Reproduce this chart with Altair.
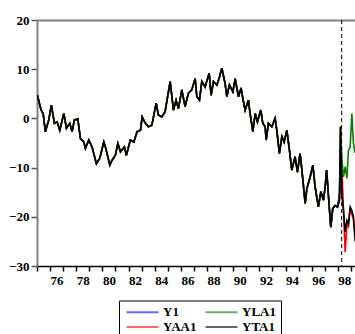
import altair as alt
import pandas as pd

# shared historical path (decimal year, value)
hist_year = [1975.03, 1975.31, 1975.47, 1975.64, 1975.90, 1976.10, 1976.33, 1976.54, 1976.74,
             1977.05, 1977.25, 1977.51, 1977.68, 1977.86, 1978.12, 1978.32, 1978.58, 1978.70,
             1978.96, 1979.21, 1979.54, 1979.80, 1980.11, 1980.23, 1980.57, 1980.74, 1980.99,
             1981.18, 1981.38, 1981.68, 1981.83, 1982.14, 1982.40, 1982.65, 1982.91, 1983.04,
             1983.29, 1983.52, 1983.78, 1984.11, 1984.28, 1984.54, 1984.79, 1985.18, 1985.43,
             1985.63, 1985.81, 1986.07, 1986.32, 1986.57, 1986.83, 1987.09, 1987.22, 1987.42,
             1987.60, 1987.85, 1988.16, 1988.31, 1988.49, 1988.75, 1988.92, 1989.13, 1989.38,
             1989.51, 1989.71, 1989.97, 1990.15, 1990.40, 1990.60, 1990.73, 1990.91, 1991.16,
             1991.29, 1991.50, 1991.68, 1991.85, 1992.11, 1992.26, 1992.44, 1992.52, 1992.69,
             1992.95, 1993.20, 1993.33, 1993.53, 1993.72, 1993.89, 1994.10, 1994.30, 1994.48,
             1994.73, 1994.91, 1995.11, 1995.24, 1995.50, 1995.63, 1995.88, 1996.09, 1996.26,
             1996.51, 1996.70, 1996.90, 1997.03, 1997.14, 1997.35, 1997.46, 1997.61, 1997.79,
             1997.97]
hist_val = [4.7, 1.7, 1.0, -2.7, -0.3, 2.7, -1.0, -0.7, -2.4,
            1.0, -2.0, -1.0, -2.7, -0.3, -0.1, -4.1, -4.8, -6.1,
            -4.4, -5.8, -9.2, -8.1, -4.8, -5.8, -9.5, -8.5, -7.5,
            -5.1, -6.8, -5.8, -7.5, -4.4, -4.8, -2.7, -2.4, 0.3,
            -1.0, -1.7, -1.4, 3.1, 0.7, 0.3, 1.3, 7.5, 1.7,
            3.7, 2.0, 5.8, 2.4, 5.1, 5.8, 8.1, 4.4, 3.7,
            7.5, 6.4, 9.2, 4.7, 7.5, 6.8, 8.1, 10.2, 7.1,
            4.4, 6.8, 5.4, 8.1, 4.4, 6.2, 4.1, 1.7, 3.7,
            1.0, -2.7, 1.0, -0.7, 1.7, -1.0, -1.7, -4.4, -1.0,
            -1.7, 0.0, -2.4, -7.1, -3.7, -4.8, -2.4, -6.5, -10.5,
            -7.8, -10.9, -7.1, -10.2, -17.3, -14.3, -11.9, -9.5, -13.9,
            -18.0, -14.9, -16.6, -13.9, -10.5, -18.3, -22.1, -18.3, -17.7,
            -18.0]

# end of sample / forecast period
y1_tail_year = [1998.12, 1998.20]
y1_tail_val = [-15.5, -13.5]

fc_year = [1998.12, 1998.20, 1998.30, 1998.43, 1998.56, 1998.69, 1998.81, 1998.94, 1999.07,
           1999.19, 1999.32, 1999.47]
yaa1_fc = [-16.6, -1.7, -10.0, -18.7, -27.2, -21.5, -22.0, -18.5, -19.5, -20.5, -24.0, -22.0]
yla1_fc = [-16.6, -1.7, -8.0, -11.9, -9.8, -12.2, -6.5, -5.8, 1.0, -5.1, -7.0, -3.0]
yta1_fc = [-16.6, -1.7, -15.3, -18.7, -23.1, -20.7, -21.4, -18.0, -18.7, -20.0, -25.0, -22.0]

forecast_start = [1998.29]

series_order = ["Y1", "YLA1", "YAA1", "YTA1"]
series_colors = ["#0000ff", "#008000", "#ff0000", "#000000"]

rows = []
def add(name, rank, years, vals):
    for y, v in zip(years, vals):
        rows.append({"series": name, "rank": rank, "year": y, "value": v})

# drawing order: Y1, YAA1, YLA1, then YTA1 on top
add("Y1", 0, hist_year + y1_tail_year, hist_val + y1_tail_val)
add("YAA1", 1, hist_year + fc_year, hist_val + yaa1_fc)
add("YLA1", 2, hist_year + fc_year, hist_val + yla1_fc)
add("YTA1", 3, hist_year + fc_year, hist_val + yta1_fc)
df = pd.DataFrame(rows)

FONT = "Liberation Serif"

xscale = alt.Scale(domain=[1975.0, 1999.31], nice=False, zero=False)
yscale = alt.Scale(domain=[-30, 20], nice=False, zero=False)

color = alt.Color(
    "series:N",
    scale=alt.Scale(domain=series_order, range=series_colors),
    legend=alt.Legend(
        title=None, orient="none", legendX=82, legendY=280.5, columns=2,
        direction="horizontal",
        symbolType="M-1,0H7", symbolSize=64, symbolStrokeWidth=2, symbolOpacity=0.6,
        labelFont=FONT, labelFontWeight="bold", labelFontSize=13, labelColor="black",
        labelOffset=26, columnPadding=4, rowPadding=1, padding=5,
        strokeColor="black", fillColor="white",
    ),
)

xaxis = alt.Axis(
    orient="bottom",
    values=list(range(1975, 2000)),
    labelExpr="datum.value % 2 == 0 ? substring(format(datum.value, 'd'), 2, 4) : ''",
    labelOffset=6.5, labelFlush=False, labelOverlap=False, labelBound=False,
    labelFont=FONT, labelFontWeight="bold", labelFontSize=13, labelColor="black",
    labelPadding=3, tickSize=5, tickColor="black", tickWidth=1.5,
    domainColor="black", domainWidth=1.5, grid=False, title=None,
)
yaxis = alt.Axis(
    values=[-30, -20, -10, 0, 10, 20],
    labelFont=FONT, labelFontWeight="bold", labelFontSize=13, labelColor="black",
    labelPadding=2, tickSize=6, tickColor="#555555", tickWidth=1.5,
    domainColor="#808080", domainWidth=2, grid=False, title=None,
)

lines = (
    alt.Chart(df)
    .mark_line(strokeWidth=1.6, clip=True)
    .encode(
        x=alt.X("year:Q", scale=xscale, axis=xaxis),
        y=alt.Y("value:Q", scale=yscale, axis=yaxis),
        color=color,
        detail="rank:O",
        order="year:Q",
    )
)

vline = (
    alt.Chart(pd.DataFrame({"year": forecast_start}))
    .mark_rule(color="black", strokeDash=[4, 3], strokeWidth=1)
    .encode(
        x=alt.X("year:Q", scale=xscale,
                axis=alt.Axis(orient="top", labels=False, ticks=False, domainColor="#808080",
                              domainWidth=2, grid=False, title=None))
    )
)

chart = (
    alt.layer(lines, vline)
    .resolve_axis(x="independent")
    .properties(
        width=318, height=246,
        autosize=alt.AutoSizeParams(type="none"),
        padding={"left": 37, "top": 20, "right": 0, "bottom": 68},
    )
    .configure_view(stroke=None)
)

chart.save("out.html", embed_options={"renderer": "svg", "actions": False})
